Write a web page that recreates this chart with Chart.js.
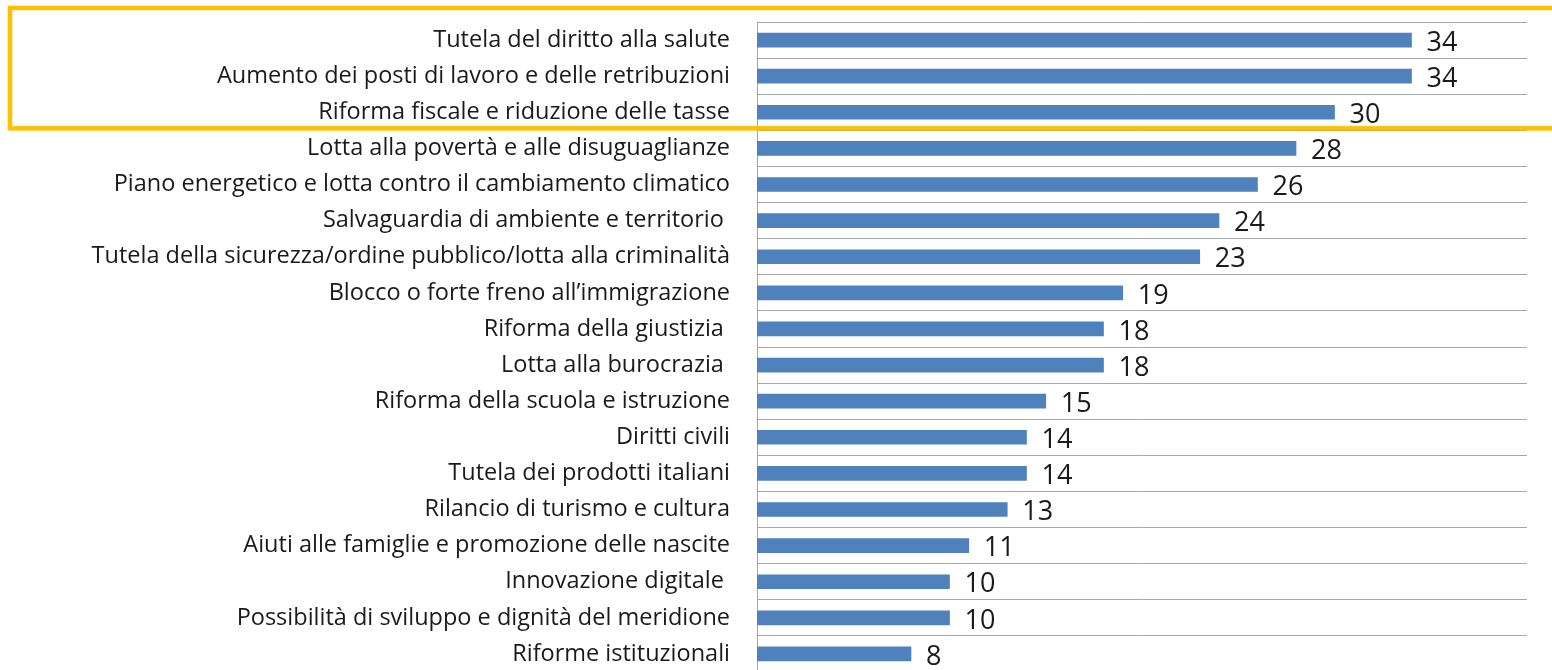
<!DOCTYPE html>
<html>
<head>
<meta charset="utf-8">
<script src="https://cdn.jsdelivr.net/npm/chart.js@4.4.1/dist/chart.umd.min.js"></script>
<style>
  html, body { margin: 0; padding: 0; background: #fff; overflow: hidden; }
  #wrap { width: 1552px; height: 672px; position: relative; }
</style>
</head>
<body>
<div id="wrap"><canvas id="myChart"></canvas></div>
<script>
// categories, top to bottom
const categories = [
    'Tutela del diritto alla salute',
    'Aumento dei posti di lavoro e delle retribuzioni',
    'Riforma fiscale e riduzione delle tasse',
    'Lotta alla povertà e alle disuguaglianze',
    'Piano energetico e lotta contro il cambiamento climatico',
    'Salvaguardia di ambiente e territorio ',
    'Tutela della sicurezza/ordine pubblico/lotta alla criminalità',
    'Blocco o forte freno all\u2019immigrazione',
    'Riforma della giustizia ',
    'Lotta alla burocrazia ',
    'Riforma della scuola e istruzione',
    'Diritti civili',
    'Tutela dei prodotti italiani',
    'Rilancio di turismo e cultura',
    'Aiuti alle famiglie e promozione delle nascite',
    'Innovazione digitale ',
    'Possibilità di sviluppo e dignità del meridione',
    'Riforme istituzionali'
];
const values = [34, 34, 30, 28, 26, 24, 23, 19, 18, 18, 15, 14, 14, 13, 11, 10, 10, 8];
const highlightedRows = 3; // top rows inside the yellow box

const FONT = '"Open Sans", "Noto Sans", sans-serif';

// value labels at the end of each bar
const valueLabels = {
    id: 'valueLabels',
    afterDatasetsDraw(chart) {
        const ctx = chart.ctx;
        const meta = chart.getDatasetMeta(0);
        ctx.save();
        ctx.font = '27px ' + FONT;
        ctx.fillStyle = '#1a1a1a';
        ctx.textAlign = 'left';
        ctx.textBaseline = 'middle';
        meta.data.forEach((bar, i) => {
            ctx.fillText(String(values[i]), bar.x + 15, bar.y + 3);
        });
        ctx.restore();
    }
};

// yellow highlight box around the first rows
const highlightBox = {
    id: 'highlightBox',
    afterDraw(chart) {
        const y = chart.scales.y;
        const pitch = y.getPixelForValue(1) - y.getPixelForValue(0);
        const top = y.getPixelForValue(0) - pitch / 2 - 14;
        const bottom = y.getPixelForValue(highlightedRows - 1) + pitch / 2 - 2;
        const ctx = chart.ctx;
        ctx.save();
        ctx.strokeStyle = '#FFC000';
        ctx.lineWidth = 4.5;
        ctx.strokeRect(10, top, chart.width + 20, bottom - top);
        ctx.restore();
    }
};

const config = {
    type: 'bar',
    data: {
        labels: categories,
        datasets: [{
            data: values,
            backgroundColor: '#4F81BD',
            borderColor: '#4F81BD',
            borderWidth: 0,
            barThickness: 14
        }]
    },
    options: {
        indexAxis: 'y',
        responsive: true,
        maintainAspectRatio: false,
        animation: false,
        layout: { padding: { top: 22, right: 25, bottom: 0, left: 0 } },
        scales: {
            x: {
                display: false,
                min: 0,
                max: 40
            },
            y: {
                afterFit(scale) {
                    scale.width = 757;
                    scale.paddingTop = 0;
                    scale.paddingBottom = 0;
                },
                grid: {
                    color: '#A6A6A6',
                    lineWidth: 1,
                    drawTicks: false,
                    offset: true
                },
                border: { display: true, color: '#A6A6A6', width: 1 },
                ticks: {
                    padding: 27,
                    color: '#1a1a1a',
                    font: { family: FONT, size: 23.5 },
                    autoSkip: false
                }
            }
        },
        plugins: {
            legend: { display: false },
            tooltip: { enabled: false }
        }
    },
    plugins: [valueLabels, highlightBox]
};

new Chart(document.getElementById('myChart'), config);
</script>
</body>
</html>
